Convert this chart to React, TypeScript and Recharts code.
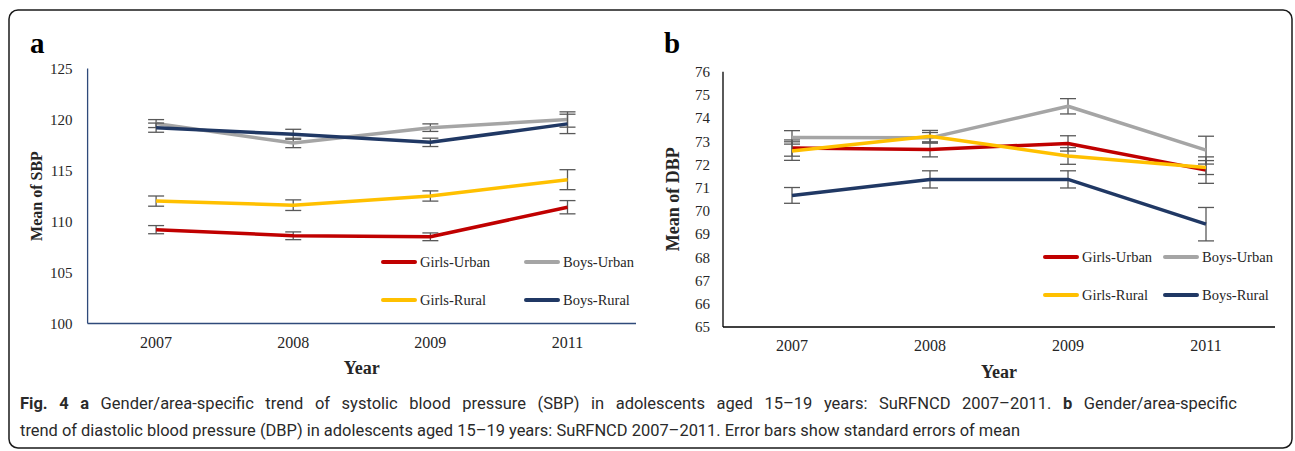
import React from "react";
import { LineChart, Line, XAxis, YAxis, ErrorBar } from "recharts";

// survey years (x categories)
const YEARS = ["2007", "2008", "2009", "2011"];

// panel a: systolic BP means and standard errors
const SBP_GIRLS_URBAN = [109.2, 108.6, 108.5, 111.4];
const SBP_GIRLS_URBAN_SE = [0.4, 0.38, 0.38, 0.65];
const SBP_BOYS_URBAN = [119.6, 117.7, 119.2, 120.0];
const SBP_BOYS_URBAN_SE = [0.39, 0.46, 0.37, 0.75];
const SBP_GIRLS_RURAL = [112.0, 111.6, 112.5, 114.1];
const SBP_GIRLS_RURAL_SE = [0.5, 0.52, 0.5, 0.98];
const SBP_BOYS_RURAL = [119.2, 118.55, 117.76, 119.57];
const SBP_BOYS_RURAL_SE = [0.45, 0.49, 0.41, 0.95];

// panel b: diastolic BP means and standard errors
const DBP_GIRLS_URBAN = [72.71, 72.65, 72.91, 71.76];
const DBP_GIRLS_URBAN_SE = [0.35, 0.32, 0.33, 0.57];
const DBP_BOYS_URBAN = [73.17, 73.15, 74.51, 72.62];
const DBP_BOYS_URBAN_SE = [0.29, 0.23, 0.33, 0.6];
const DBP_GIRLS_RURAL = [72.58, 73.22, 72.37, 71.87];
const DBP_GIRLS_RURAL_SE = [0.4, 0.25, 0.36, 0.3];
const DBP_BOYS_RURAL = [70.67, 71.36, 71.36, 69.43];
const DBP_BOYS_RURAL_SE = [0.34, 0.37, 0.37, 0.72];

const SBP_TICKS = [100, 105, 110, 115, 120, 125];
const DBP_TICKS = [65, 66, 67, 68, 69, 70, 71, 72, 73, 74, 75, 76];

const SERIES = [
  { key: "gu", name: "Girls-Urban", color: "#C00000" },
  { key: "bu", name: "Boys-Urban", color: "#A5A5A5" },
  { key: "gr", name: "Girls-Rural", color: "#FFC000" },
  { key: "br", name: "Boys-Rural", color: "#203864" },
];

const SERIF = "'Liberation Serif', 'Times New Roman', serif";
const SANS = "Roboto, 'Open Sans', sans-serif";
const TEXT = "#262626";

function buildRows(vals: number[][], errs: number[][]) {
  return YEARS.map((year, i) => {
    const row: Record<string, number | string> = { year };
    SERIES.forEach((s, k) => {
      row[s.key] = vals[k][i];
      row[s.key + "E"] = errs[k][i];
    });
    return row;
  });
}

const sbpData = buildRows(
  [SBP_GIRLS_URBAN, SBP_BOYS_URBAN, SBP_GIRLS_RURAL, SBP_BOYS_RURAL],
  [SBP_GIRLS_URBAN_SE, SBP_BOYS_URBAN_SE, SBP_GIRLS_RURAL_SE, SBP_BOYS_RURAL_SE]
);
const dbpData = buildRows(
  [DBP_GIRLS_URBAN, DBP_BOYS_URBAN, DBP_GIRLS_RURAL, DBP_BOYS_RURAL],
  [DBP_GIRLS_URBAN_SE, DBP_BOYS_URBAN_SE, DBP_GIRLS_RURAL_SE, DBP_BOYS_RURAL_SE]
);

interface PanelProps {
  data: Record<string, number | string>[];
  width: number;
  margin: { top: number; right: number; left: number; bottom: number };
  yWidth: number;
  domain: [number, number];
  ticks: number[];
  yLabel: string;
  yLabelSize: number;
  yLabelOffset: number;
  axisColor: string;
  yTickMargin: number;
  xPad: number;
}

function Panel(p: PanelProps) {
  return (
    <LineChart width={p.width} height={400} data={p.data} margin={p.margin}>
      <XAxis
        dataKey="year"
        height={30}
        padding={{ left: p.xPad, right: p.xPad }}
        axisLine={{ stroke: p.axisColor, strokeWidth: 1.3 }}
        tickLine={false}
        tickMargin={7}
        tick={{ fontSize: 16, fill: TEXT, fontFamily: SERIF }}
        label={{
          value: "Year",
          position: "bottom",
          offset: 8,
          fontSize: 18,
          fontWeight: 700,
          fill: TEXT,
          fontFamily: SERIF,
        }}
      />
      <YAxis
        width={p.yWidth}
        domain={p.domain}
        ticks={p.ticks}
        interval={0}
        axisLine={{ stroke: p.axisColor, strokeWidth: 1.3 }}
        tickLine={false}
        tickMargin={p.yTickMargin}
        tick={{ fontSize: 15, fill: TEXT, fontFamily: SERIF }}
        label={{
          value: p.yLabel,
          angle: -90,
          position: "insideLeft",
          offset: p.yLabelOffset,
          fontSize: p.yLabelSize,
          fontWeight: 700,
          fill: TEXT,
          fontFamily: SERIF,
          style: { textAnchor: "middle" },
        }}
      />
      {SERIES.map((s) => (
        <Line
          key={s.key}
          dataKey={s.key}
          name={s.name}
          type="linear"
          stroke={s.color}
          strokeWidth={3.5}
          strokeLinejoin="round"
          dot={false}
          activeDot={false}
          isAnimationActive={false}
        >
          <ErrorBar
            dataKey={s.key + "E"}
            direction="y"
            width={8}
            stroke="#595959"
            strokeWidth={1.3}
            isAnimationActive={false}
          />
        </Line>
      ))}
    </LineChart>
  );
}

function LegendBox({ left, top, col2, rowGap }: { left: number; top: number; col2: number; rowGap: number }) {
  return (
    <>
      {SERIES.map((s, i) => {
        const x = left + (i % 2) * col2;
        const y = top + Math.floor(i / 2) * rowGap;
        return (
          <div
            key={s.key}
            style={{
              position: "absolute",
              left: x,
              top: y - 10,
              height: 20,
              display: "flex",
              alignItems: "center",
              fontFamily: SERIF,
              fontSize: 14.5,
              color: TEXT,
              whiteSpace: "nowrap",
            }}
          >
            <span
              style={{
                display: "inline-block",
                width: 36,
                height: 4,
                borderRadius: 2,
                background: s.color,
                marginRight: 3,
              }}
            />
            {s.name}
          </div>
        );
      })}
    </>
  );
}

export default function App() {
  return (
    <div
      style={{
        position: "absolute",
        left: 0,
        top: 0,
        width: 1295,
        height: 451,
        background: "#fff",
        overflow: "hidden",
      }}
    >
      <div style={{ position: "absolute", left: 0, top: 0 }}>
        <Panel
          data={sbpData}
          width={660}
          margin={{ top: 68.5, right: 24, left: 0, bottom: 46.5 }}
          yWidth={87.6}
          domain={[100, 125]}
          ticks={SBP_TICKS}
          yLabel="Mean of SBP"
          yLabelSize={16}
          yLabelOffset={36}
          axisColor="#2F4A7A"
          yTickMargin={9}
          xPad={68.5}
        />
      </div>
      <div style={{ position: "absolute", left: 640, top: 0 }}>
        <Panel
          data={dbpData}
          width={655}
          margin={{ top: 71.7, right: 20, left: 0, bottom: 43 }}
          yWidth={83}
          domain={[65, 76]}
          ticks={DBP_TICKS}
          yLabel="Mean of DBP"
          yLabelSize={18}
          yLabelOffset={33}
          axisColor="#000"
          yTickMargin={7}
          xPad={69}
        />
      </div>
      <LegendBox left={381} top={262} col2={143} rowGap={38} />
      <LegendBox left={1043} top={257} col2={120} rowGap={38} />

      {/* caption: line 1 is justified, line 2 is the last line */}
      <div
        style={{
          position: "absolute",
          left: 20,
          top: 394.4,
          width: 1217,
          fontFamily: SANS,
          fontSize: 16.5,
          lineHeight: "20px",
          color: "#2a2a2a",
          textAlign: "justify",
          textAlignLast: "justify",
        }}
      >
        <b>Fig. 4 a</b> Gender/area-specific trend of systolic blood pressure (SBP) in adolescents aged 15–19 years: SuRFNCD 2007–2011. <b>b</b> Gender/area-specific
      </div>

      <svg
        width={1295}
        height={451}
        style={{ position: "absolute", left: 0, top: 0, pointerEvents: "none" }}
      >
        <rect x={9} y={10} width={1283} height={438} rx={9} fill="none" stroke="#1a1a1a" strokeWidth={1.5} />
        <text x={30} y={53} fontFamily={SERIF} fontWeight={700} fontSize={29} fill="#000">a</text>
        <text x={664} y={53} fontFamily={SERIF} fontWeight={700} fontSize={29} fill="#000">b</text>
        <text
          x={20}
          y={436}
          fontFamily={SANS}
          fontSize={16.5}
          fill="#2a2a2a"
          textLength={1000}
          lengthAdjust="spacingAndGlyphs"
        >
          trend of diastolic blood pressure (DBP) in adolescents aged 15–19 years: SuRFNCD 2007–2011. Error bars show standard errors of mean
        </text>
      </svg>
    </div>
  );
}
